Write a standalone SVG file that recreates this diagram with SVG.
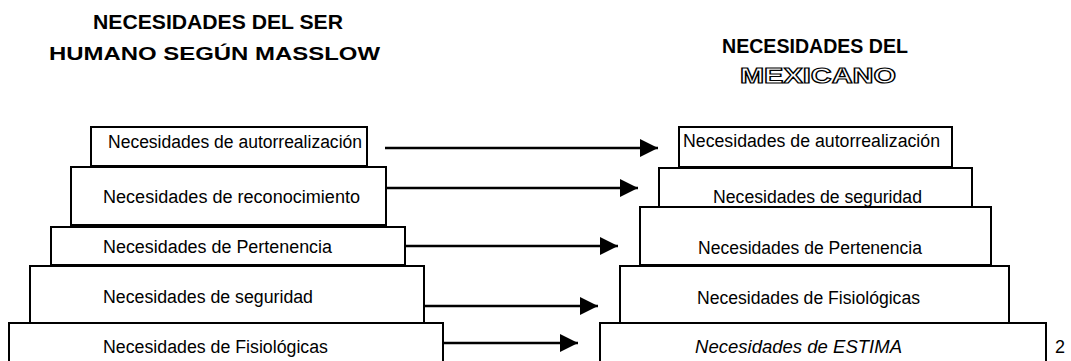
<svg xmlns="http://www.w3.org/2000/svg" width="1071" height="361" viewBox="0 0 1071 361">
<style>
.box{fill:#fff;stroke:#000;stroke-width:2}
.t{font-family:"Liberation Sans",Arial,sans-serif;font-size:18px;fill:#000}
.ti{font-family:"Liberation Sans",Arial,sans-serif;font-size:18px;font-style:italic;fill:#000}
.h{font-family:"Liberation Sans",Arial,sans-serif;font-weight:bold;fill:#000}
.ho{font-family:"Liberation Sans",Arial,sans-serif;font-weight:bold;fill:#fff;stroke:#000;stroke-width:1.2}
.c{stroke:#000;stroke-width:2.5;fill:none}
</style>
<defs>
<marker id="ah" markerUnits="userSpaceOnUse" markerWidth="20" markerHeight="20" viewBox="0 0 20 20" refX="18" refY="10" orient="auto">
<path d="M0,1 L18,10 L0,19 Z" fill="#000"/>
</marker>
</defs>
<rect width="1071" height="361" fill="#fff"/>
<g id="titles">
<text class="h" x="93" y="29" font-size="21" textLength="250" lengthAdjust="spacingAndGlyphs">NECESIDADES DEL SER</text>
<text class="h" x="49" y="60" font-size="18" textLength="331" lengthAdjust="spacingAndGlyphs">HUMANO SEGÚN MASSLOW</text>
<text class="h" x="722" y="53" font-size="21" textLength="186" lengthAdjust="spacingAndGlyphs">NECESIDADES DEL</text>
<text class="ho" x="740" y="83" font-size="22" textLength="156" lengthAdjust="spacingAndGlyphs">MEXICANO</text>
</g>
<g id="left-pyramid">
<g id="L5"><rect class="box" x="9" y="323" width="434" height="45"/><text class="t" x="103" y="353" textLength="225" lengthAdjust="spacingAndGlyphs">Necesidades de Fisiológicas</text></g>
<g id="L4"><rect class="box" x="30" y="266" width="394" height="57"/><text class="t" x="103" y="303" textLength="210" lengthAdjust="spacingAndGlyphs">Necesidades de seguridad</text></g>
<g id="L3"><rect class="box" x="51" y="227" width="354" height="38"/><text class="t" x="103" y="253" textLength="229" lengthAdjust="spacingAndGlyphs">Necesidades de Pertenencia</text></g>
<g id="L2"><rect class="box" x="71" y="167" width="315" height="58"/><text class="t" x="103" y="203" textLength="257" lengthAdjust="spacingAndGlyphs">Necesidades de reconocimiento</text></g>
<g id="L1"><rect class="box" x="91" y="127" width="276" height="39"/><text class="t" x="108" y="148" textLength="254" lengthAdjust="spacingAndGlyphs">Necesidades de autorrealización</text></g>
</g>
<g id="right-pyramid">
<g id="R5"><rect class="box" x="600" y="323" width="446" height="45"/><text class="ti" x="695" y="353" textLength="207" lengthAdjust="spacingAndGlyphs">Necesidades de ESTIMA</text></g>
<g id="R4"><rect class="box" x="620" y="266" width="389" height="57"/><text class="t" x="697" y="304" textLength="223" lengthAdjust="spacingAndGlyphs">Necesidades de Fisiológicas</text></g>
<g id="R3"><rect class="box" x="640" y="207" width="351" height="58"/><text class="t" x="698" y="254" textLength="224" lengthAdjust="spacingAndGlyphs">Necesidades de Pertenencia</text></g>
<g id="R2"><rect class="box" x="659" y="168" width="313" height="39"/><text class="t" x="713" y="203" textLength="209" lengthAdjust="spacingAndGlyphs">Necesidades de seguridad</text></g>
<g id="R1"><rect class="box" x="679" y="127" width="273" height="40"/><text class="t" x="683" y="147" textLength="257" lengthAdjust="spacingAndGlyphs">Necesidades de autorrealización</text></g>
</g>
<g id="page-number"><text class="t" x="1055" y="353">2</text></g>
<g id="connectors">
<line class="c" x1="385" y1="148" x2="658" y2="148" marker-end="url(#ah)"/>
<line class="c" x1="386" y1="188" x2="638" y2="188" marker-end="url(#ah)"/>
<line class="c" x1="405" y1="246" x2="618" y2="246" marker-end="url(#ah)"/>
<line class="c" x1="424" y1="306" x2="598" y2="306" marker-end="url(#ah)"/>
<line class="c" x1="443" y1="343" x2="578" y2="343" marker-end="url(#ah)"/>
</g>
</svg>
